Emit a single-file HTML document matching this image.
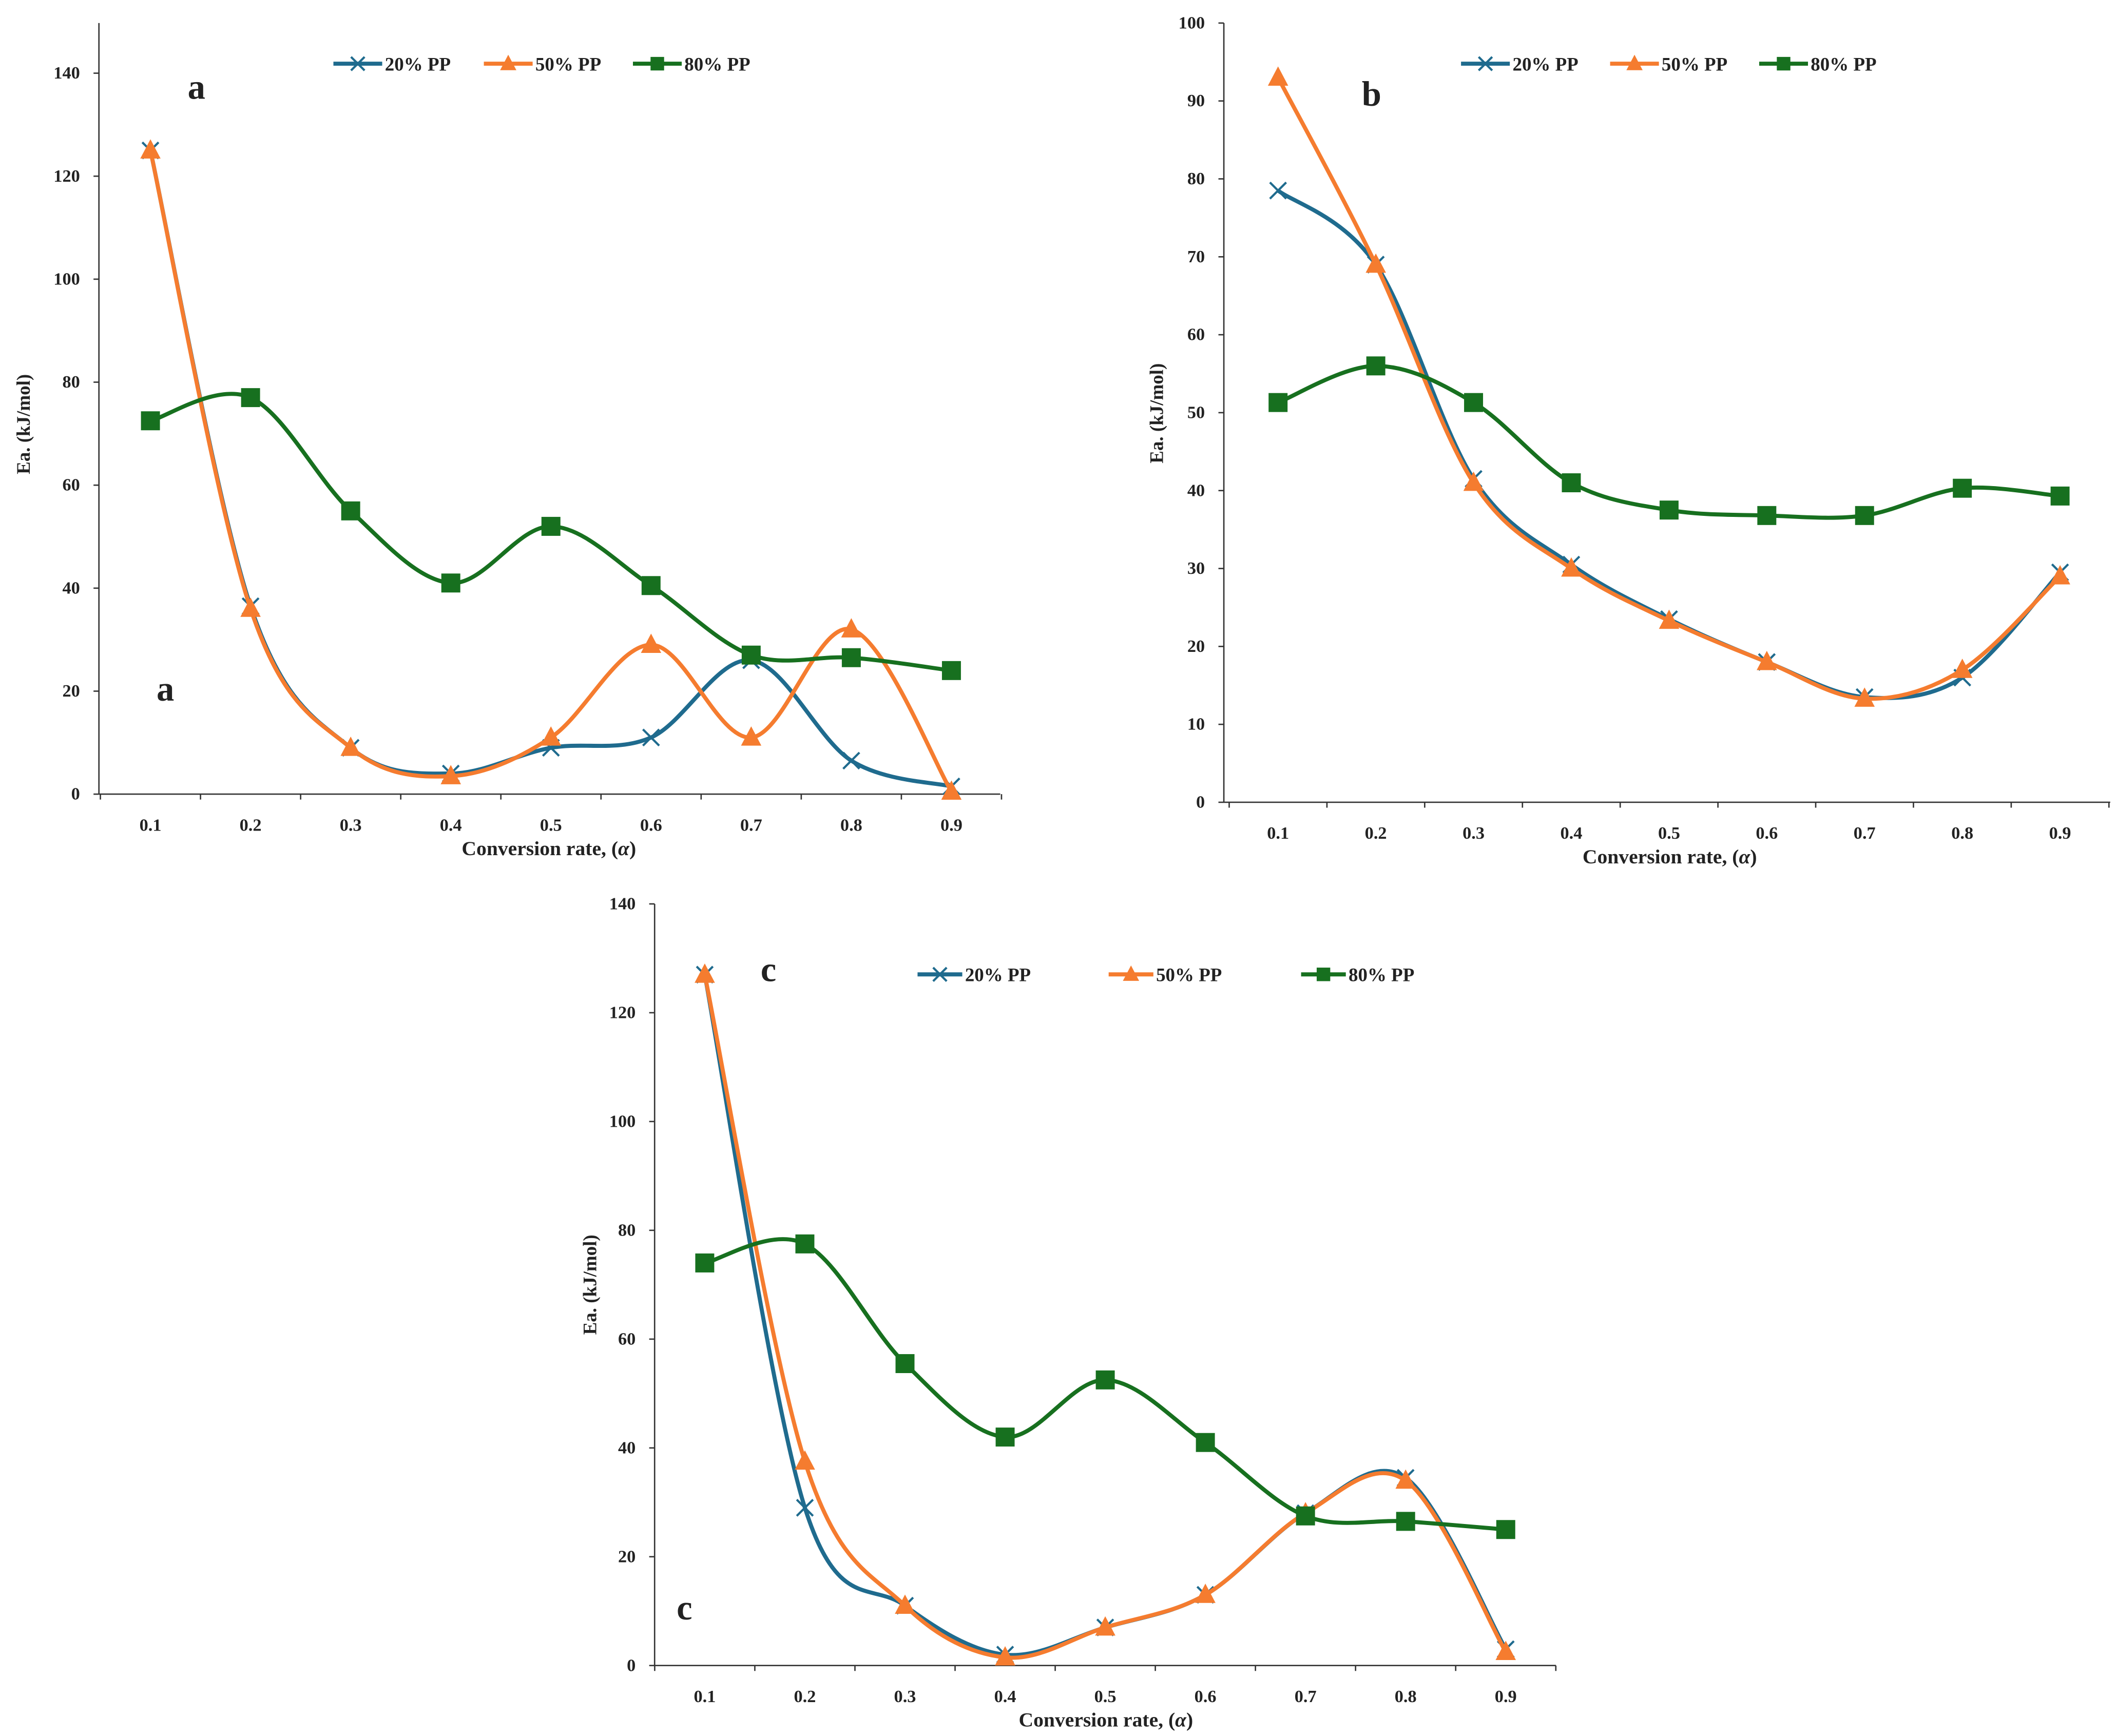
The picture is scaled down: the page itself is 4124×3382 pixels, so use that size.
<!DOCTYPE html>
<html><head><meta charset="utf-8">
<style>
html,body{margin:0;padding:0;background:#fff;}
svg{display:block;}
text{font-family:"Liberation Serif",serif;font-weight:bold;fill:#222;}
</style></head>
<body>
<svg id="fig" width="4124" height="3382" viewBox="0 0 1562 1281" preserveAspectRatio="none" xmlns="http://www.w3.org/2000/svg"></svg>
<script>
const cats = [0.1,0.2,0.3,0.4,0.5,0.6,0.7,0.8,0.9];
const catLabels = ["0.1","0.2","0.3","0.4","0.5","0.6","0.7","0.8","0.9"];
const seriesNames = ["20% PP","50% PP","80% PP"];
const a20 = [125,36.5,9,4,9,11,26,6.5,1.5];
const a50 = [125,36,9,3.5,11,29,11,32,0.5];
const a80 = [72.5,77,55,41,52,40.5,27,26.5,24];
const b20 = [78.5,69,41.5,30.5,23.5,18,13.5,16,29.5];
const b50 = [93,69,41,30,23.3,18,13.3,17,29];
const b80 = [51.3,56,51.3,41,37.5,36.8,36.8,40.3,39.3];
const c20 = [127,29,11,2,7,13,28,34.5,3];
const c50 = [127,37.5,11,1.5,7,13,28,34,2.5];
const c80 = [74,77.5,55.5,42,52.5,41,27.5,26.5,25];
const yTicksAC = [0,20,40,60,80,100,120,140];
const yTicksB = [0,10,20,30,40,50,60,70,80,90,100];

const NS="http://www.w3.org/2000/svg";
const svg=document.getElementById('fig');
const COLORS=["#1f6b8e","#f57c2f","#17701f"];
function mk(tag,attrs,parent){const e=document.createElementNS(NS,tag);for(const k in attrs)e.setAttribute(k,attrs[k]);(parent||svg).appendChild(e);return e;}

function smoothPath(pts){
  let d="M"+pts[0][0]+","+pts[0][1];
  for(let i=0;i<pts.length-1;i++){
    const p0=pts[Math.max(0,i-1)],p1=pts[i],p2=pts[i+1],p3=pts[Math.min(pts.length-1,i+2)];
    const t=1/6;
    const c1=[p1[0]+(p2[0]-p0[0])*t,p1[1]+(p2[1]-p0[1])*t];
    const c2=[p2[0]-(p3[0]-p1[0])*t,p2[1]-(p3[1]-p1[1])*t];
    d+=" C"+c1[0]+","+c1[1]+" "+c2[0]+","+c2[1]+" "+p2[0]+","+p2[1];
  }
  return d;
}
function marker(g,kind,x,y,color,s){
  if(kind===0){mk('path',{d:`M${x-s},${y-s}L${x+s},${y+s}M${x-s},${y+s}L${x+s},${y-s}`,stroke:color,'stroke-width':1.6,fill:'none'},g);}
  else if(kind===1){mk('path',{d:`M${x},${y-s*1.1}L${x+s},${y+s*0.8}L${x-s},${y+s*0.8}Z`,fill:color},g);}
  else {mk('rect',{x:x-s,y:y-s,width:2*s,height:2*s,fill:color},g);}
}

function chart(cfg){
  const g=mk('g',{});
  
  
  const X=v=>cfg.x0+(v-cats[0])/(cats[cats.length-1]-cats[0])*(cfg.x1-cfg.x0);
  const Y=v=>cfg.y0+(v-cfg.ymin)/(cfg.ymax-cfg.ymin)*(cfg.y1-cfg.y0);
  const ya=mk('line',{x1:cfg.ax,y1:cfg.top,x2:cfg.ax,y2:cfg.y0,stroke:'#333','stroke-width':1},g);
  
  
  const xa=mk('line',{x1:cfg.ax,y1:cfg.y0,x2:cfg.right,y2:cfg.y0,stroke:'#333','stroke-width':1},g);
  
  
  cfg.yticks.forEach(v=>{
    mk('line',{x1:cfg.ax-4,y1:Y(v),x2:cfg.ax,y2:Y(v),stroke:'#333','stroke-width':1},g);
    const t=mk('text',{x:cfg.ax-14,y:Y(v)+4,'text-anchor':'end','font-size':13},g);
    t.textContent=v;
    
    
  });
  const step=(cfg.x1-cfg.x0)/(cats.length-1);
  for(let i=0;i<=cats.length;i++){
    const xx=cfg.x0-step/2+i*step;
    mk('line',{x1:xx,y1:cfg.y0,x2:xx,y2:cfg.y0+4,stroke:'#333','stroke-width':1},g);
  }
  cats.forEach((c,i)=>{
    const t=mk('text',{x:X(c),y:cfg.y0+27,'text-anchor':'middle','font-size':13},g);
    t.textContent=catLabels[i];
    
    
  });
  const xt=mk('text',{x:cfg.xtx,y:cfg.y0+45,'text-anchor':'middle','font-size':15},g);
  xt.innerHTML='Conversion rate, (<tspan font-style="italic">α</tspan>)';
  
  
  const yt=mk('text',{x:0,y:0,'text-anchor':'middle','font-size':14,transform:`translate(${cfg.ytx},${cfg.yty}) rotate(-90)`},g);
  yt.textContent='Ea. (kJ/mol)';
  
  
  cfg.series.forEach((vals,k)=>{
    const sg=mk('g',{},g);
    
    
    const pts=vals.map((v,i)=>[X(cats[i]),Y(v)]);
    const p=mk('path',{d:smoothPath(pts),stroke:COLORS[k],'stroke-width':3,fill:'none'},sg);
    
    
    pts.forEach(pt=>marker(sg,k,pt[0],pt[1],COLORS[k],k===2?7:(k===1?7.5:6)));
  });
  cfg.legend.forEach((lx,k)=>{
    const lg=mk('g',{},g);
    
    
    mk('line',{x1:lx,y1:cfg.ly,x2:lx+cfg.ll,y2:cfg.ly,stroke:COLORS[k],'stroke-width':3},lg);
    marker(lg,k,lx+cfg.ll/2,cfg.ly,COLORS[k],k===1?6:5);
    const t=mk('text',{x:lx+cfg.ll+2,y:cfg.ly+5,'font-size':14},lg);
    t.textContent=seriesNames[k];
  });
  cfg.letters.forEach(L=>{
    const t=mk('text',{x:L[0],y:L[1],'text-anchor':'middle','font-size':26},g);
    t.textContent=L[2];
    
    
  });
}

chart({name:'chart-a',ax:73,top:17,right:738,x0:111,x1:702,y0:586,y1:54,ymin:0,ymax:140,yticks:yTicksAC,
  xtx:405,ytx:22,yty:313,series:[a20,a50,a80],legend:[246,357,467],ll:36,ly:47,
  letters:[[145,73,'a'],[122,517,'a']]});
chart({name:'chart-b',ax:903,top:17,right:1557,x0:943,x1:1520,y0:592,y1:17,ymin:0,ymax:100,yticks:yTicksB,
  xtx:1232,ytx:858,yty:305,series:[b20,b50,b80],legend:[1078,1188,1298],ll:36,ly:47,
  letters:[[1012,78,'b']]});
chart({name:'chart-c',ax:483,top:667,right:1148,x0:520,x1:1111,y0:1229,y1:667,ymin:0,ymax:140,yticks:yTicksAC,
  xtx:816,ytx:440,yty:948,series:[c20,c50,c80],legend:[677,818,960],ll:33,ly:719,
  letters:[[567,724,'c'],[505,1195,'c']]});
</script>
</body></html>
